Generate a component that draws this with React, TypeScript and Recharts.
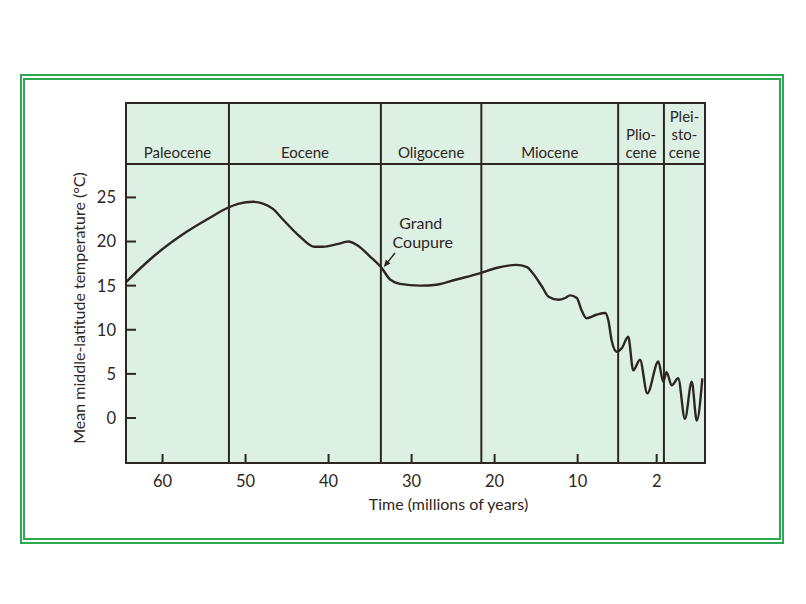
import {
  LineChart,
  Line,
  XAxis,
  YAxis,
  ReferenceArea,
  ReferenceLine,
  ReferenceDot,
  Label,
} from 'recharts';

// curve: age in millions of years, temperature in °C
const AGES = [
  64.4, 61.1, 57.1, 54.3, 52.2, 50.8, 49.1, 47.9, 46.7, 45.5, 43.5, 41.7, 40.7, 39.0,
  37.6, 36.6, 35.0, 33.6, 32.6, 31.4, 29.0, 27.0, 24.6, 21.8, 19.8, 17.4, 16.1, 15.4,
  14.3, 13.5, 12.3, 11.5, 10.9, 10.1, 9.6, 9.1, 8.1, 7.2, 6.9, 6.56, 6.05, 5.54, 4.88,
  4.37, 3.69, 2.95, 1.93, 1.73, 1.59, 1.38, 1.11, 0.83, 0.55, 0.34, 0.11,
];
const TEMPS = [
  15.4, 18.3, 21.1, 22.7, 23.8, 24.3, 24.5, 24.3, 23.7, 22.5, 20.6, 19.4, 19.4, 19.7,
  20.0, 19.6, 18.3, 17.0, 15.7, 15.2, 15.0, 15.1, 15.7, 16.4, 17.0, 17.35, 17.1, 16.4,
  14.9, 13.75, 13.4, 13.6, 13.9, 13.6, 12.2, 11.3, 11.7, 11.9, 11.1, 8.8, 7.5, 7.9, 9.2,
  5.4, 6.6, 2.8, 6.4, 4.1, 5.2, 3.7, 4.5, -0.1, 4.1, -0.3, 4.5,
];

const TICK_AGES = [60, 50, 40, 30, 20, 10, 2];
const Y_TICKS = [0, 5, 10, 15, 20, 25];

const EPOCH_NAMES = [
  ['Paleocene'],
  ['Eocene'],
  ['Oligocene'],
  ['Miocene'],
  ['Plio-', 'cene'],
  ['Plei-', 'sto-', 'cene'],
];
const EPOCH_BOUNDS = [64.4, 52, 33.7, 21.6, 5.9, 1.7, 0];

// the time axis is stretched towards the present
const AXIS_BREAKS = [64.4, 10, 2, 0];
const AXIS_STRETCH = [1, 1.19, 2.91];

const Y_MIN = -5.1;
const Y_MAX = 35.7;
const BAND_FLOOR = 28.8;

const INK = '#2e2622';
const FILL = '#ddf0e4';
const FRAME = '#2aa852';
const FONT = 'Lato, sans-serif';

function toAxis(age: number) {
  let u = 0;
  for (let i = 0; i < AXIS_STRETCH.length; i++) {
    const hi = AXIS_BREAKS[i];
    const lo = AXIS_BREAKS[i + 1];
    if (age >= lo) return u + (hi - Math.min(age, hi)) * AXIS_STRETCH[i];
    u += (hi - lo) * AXIS_STRETCH[i];
  }
  return u;
}

const X_MAX = toAxis(0);
const data = AGES.map((a, i) => ({ u: toAxis(a), t: TEMPS[i] }));

const XTick = ({ x, y, payload }: any) => {
  const age = TICK_AGES.find((a) => Math.abs(toAxis(a) - payload.value) < 1e-6);
  return (
    <g>
      <line x1={x} y1={y} x2={x} y2={y - 9} stroke={INK} strokeWidth={2} />
      <text x={x} y={y + 24} textAnchor="middle" fontSize={16.5} fill={INK} fontFamily={FONT}>
        {age}
      </text>
    </g>
  );
};

const YTick = ({ x, y, payload }: any) => (
  <g>
    <line x1={x} y1={y} x2={x + 10} y2={y} stroke={INK} strokeWidth={2} />
    <text x={x - 10} y={y} dy="0.36em" textAnchor="end" fontSize={16.5} fill={INK} fontFamily={FONT}>
      {payload.value}
    </text>
  </g>
);

const EpochLabel = ({ viewBox, lines }: any) => {
  const { x, y, width, height } = viewBox;
  const base = y + height - 6;
  return (
    <g>
      {lines.map((l: string, i: number) => (
        <text
          key={i}
          x={x + width / 2}
          y={base - (lines.length - 1 - i) * 18}
          textAnchor="middle"
          fontSize={15}
          fill={INK}
          fontFamily={FONT}
        >
          {l}
        </text>
      ))}
    </g>
  );
};

const NoteLabel = ({ viewBox }: any) => (
  <g fontSize={16} fill={INK} fontFamily={FONT} textAnchor="middle">
    <text x={viewBox.x} y={viewBox.y}>Grand</text>
    <text x={viewBox.x + 2} y={viewBox.y + 19}>Coupure</text>
  </g>
);

const Arrow = ({ x1, y1, x2, y2 }: any) => {
  const dx = x2 - x1;
  const dy = y2 - y1;
  const len = Math.hypot(dx, dy) || 1;
  const ux = dx / len;
  const uy = dy / len;
  const bx = x2 - ux * 7;
  const by = y2 - uy * 7;
  return (
    <g>
      <line x1={x1} y1={y1} x2={bx} y2={by} stroke={INK} strokeWidth={1.5} />
      <path
        d={`M${x2},${y2} L${bx - uy * 3},${by + ux * 3} L${bx + uy * 3},${by - ux * 3} Z`}
        fill={INK}
      />
    </g>
  );
};

const YTitle = ({ viewBox }: any) => {
  const cx = viewBox.x + 12;
  const cy = viewBox.y + viewBox.height / 2 + 25;
  return (
    <text
      x={cx}
      y={cy}
      transform={`rotate(-90 ${cx} ${cy})`}
      textAnchor="middle"
      dominantBaseline="central"
      fontSize={16}
      fill={INK}
      fontFamily={FONT}
    >
      Mean middle-latitude temperature (°C)
    </text>
  );
};

const XTitle = ({ viewBox }: any) => (
  <text
    x={viewBox.x + viewBox.width / 2 + 33}
    y={viewBox.y + 47}
    textAnchor="middle"
    fontSize={16}
    fill={INK}
    fontFamily={FONT}
  >
    Time (millions of years)
  </text>
);

export default function App() {
  return (
    <div style={{ position: 'absolute', left: 0, top: 0, width: 806, height: 604, background: '#fff' }}>
      <div
        style={{
          position: 'absolute',
          left: 20,
          top: 74,
          width: 764,
          height: 470,
          border: `2px solid ${FRAME}`,
          boxSizing: 'border-box',
        }}
      />
      <div
        style={{
          position: 'absolute',
          left: 23,
          top: 78,
          width: 758,
          height: 462,
          border: `2px solid ${FRAME}`,
          boxSizing: 'border-box',
        }}
      />
      <div style={{ position: 'absolute', left: 0, top: 0 }}>
        <LineChart
          width={806}
          height={604}
          data={data}
          margin={{ top: 103, right: 101, bottom: 111, left: 66 }}
        >
          <XAxis
            dataKey="u"
            type="number"
            domain={[0, X_MAX]}
            ticks={TICK_AGES.map(toAxis)}
            tick={<XTick />}
            tickLine={false}
            axisLine={false}
            tickSize={0}
            tickMargin={0}
            height={30}
            interval={0}
          >
            <Label content={<XTitle />} />
          </XAxis>
          <YAxis
            type="number"
            domain={[Y_MIN, Y_MAX]}
            ticks={Y_TICKS}
            tick={<YTick />}
            tickLine={false}
            axisLine={false}
            tickSize={0}
            tickMargin={0}
            width={60}
            interval={0}
          >
            <Label content={<YTitle />} />
          </YAxis>
          <ReferenceArea
            x1={0}
            x2={X_MAX}
            y1={Y_MIN}
            y2={Y_MAX}
            fill={FILL}
            fillOpacity={1}
            stroke={INK}
            strokeWidth={2}
          />
          {EPOCH_NAMES.map((lines, i) => (
            <ReferenceArea
              key={i}
              x1={toAxis(EPOCH_BOUNDS[i])}
              x2={toAxis(EPOCH_BOUNDS[i + 1])}
              y1={BAND_FLOOR}
              y2={Y_MAX}
              fillOpacity={0}
              strokeOpacity={0}
              label={<EpochLabel lines={lines} />}
            />
          ))}
          {EPOCH_BOUNDS.slice(1, -1).map((b) => (
            <ReferenceLine key={b} x={toAxis(b)} stroke={INK} strokeWidth={2} />
          ))}
          <ReferenceLine y={BAND_FLOOR} stroke={INK} strokeWidth={2} />
          <ReferenceDot
            x={toAxis(28.9)}
            y={21.4}
            r={0}
            fill="none"
            stroke="none"
            label={<NoteLabel />}
          />
          <ReferenceLine
            segment={[
              { x: toAxis(32.0), y: 18.7 },
              { x: toAxis(33.35), y: 17.1 },
            ]}
            shape={<Arrow />}
          />
          <Line
            type="monotone"
            dataKey="t"
            stroke={INK}
            strokeWidth={2.4}
            dot={false}
            isAnimationActive={false}
          />
        </LineChart>
      </div>
    </div>
  );
}
